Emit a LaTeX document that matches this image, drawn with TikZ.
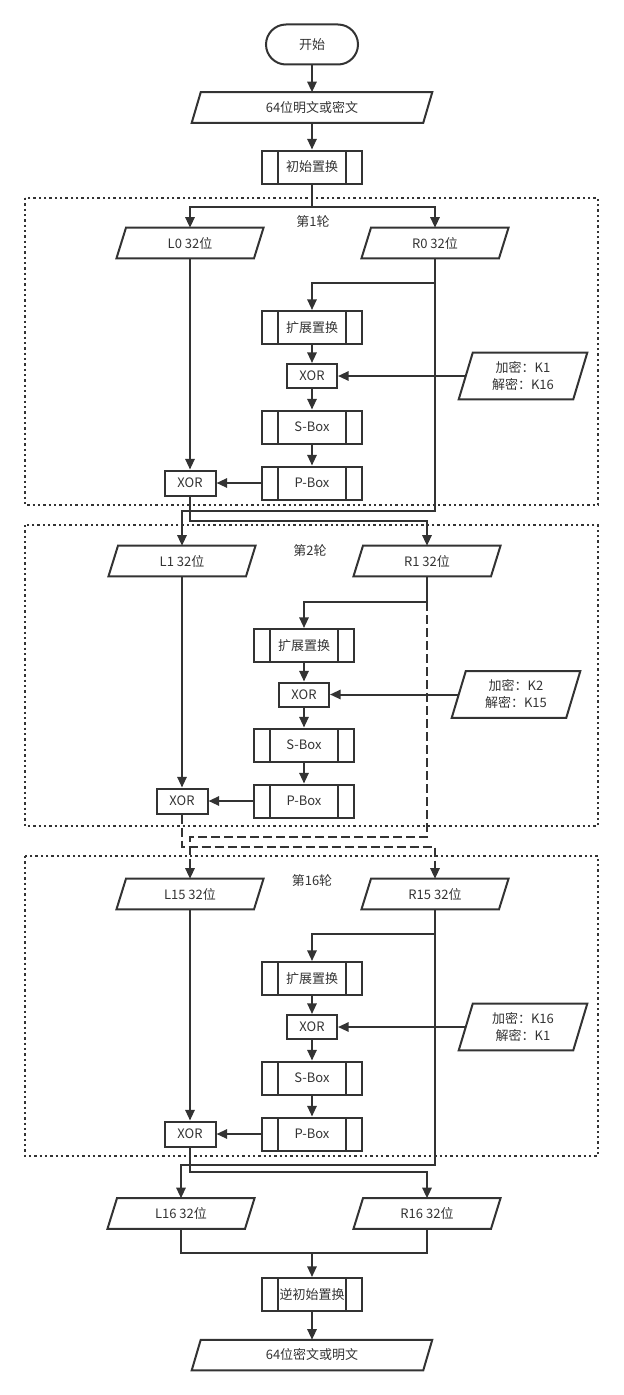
\documentclass[tikz,border=0pt]{standalone}
\usepackage{fontspec}
\newfontfamily\cjk{Noto Sans CJK SC}
\usetikzlibrary{arrows.meta,calc}
\definecolor{ink}{HTML}{333333}
\newcommand\drawpara[2]{\draw[ln] ($(#1.south west)+(-#2,0)$) -- ($(#1.north west)+(#2,0)$) -- ($(#1.north east)+(#2,0)$) -- ($(#1.south east)+(-#2,0)$) -- cycle;}
\begin{document}
\begin{tikzpicture}[x=0.75pt,y=-0.75pt,
  every node/.style={font=\cjk\fontsize{9.75pt}{12.75pt}\selectfont, text=ink},
  ln/.style={draw=ink, line width=1.5pt},
  arr/.style={ln, -{Triangle[length=8pt,width=7pt]}},
  dsh/.style={dash pattern=on 6.75pt off 3pt},
  roundbox/.style={draw=ink, line width=1.5pt, dash pattern=on 1.7pt off 2.3pt},
  box/.style={draw=ink, line width=1.5pt, rectangle, inner sep=0pt},
  term/.style={box, rounded corners=15pt, minimum width=69pt, minimum height=30pt},
  proc/.style={box, minimum width=75pt, minimum height=24.75pt,
    path picture={\draw[ink,line width=1.3pt]
      ([xshift=12pt]path picture bounding box.north west) -- ([xshift=12pt]path picture bounding box.south west)
      ([xshift=-12pt]path picture bounding box.north east) -- ([xshift=-12pt]path picture bounding box.south east);}},
  xorbox/.style={box, minimum width=37.5pt, minimum height=18pt},
  lxor/.style={box, minimum width=38.25pt, minimum height=18.75pt},
  para/.style={rectangle, inner sep=0pt, minimum width=102.75pt, minimum height=22.5pt},
  bigpara/.style={rectangle, inner sep=0pt, minimum width=173.25pt, minimum height=22.5pt},
  keypara/.style={rectangle, inner sep=0pt, minimum width=85.5pt, minimum height=34.5pt, align=center},
  lbl/.style={inner sep=0pt}
]
\useasboundingbox (0,0) rectangle (624,1395);

% round frames
\draw[roundbox] (25,198) rectangle (598,505);
\draw[roundbox] (25,525) rectangle (598,826);
\draw[roundbox] (25,856) rectangle (598,1156);
\node[lbl] (rl1) at (313,222) {第1轮};
\node[lbl] (rl2) at (310,551) {第2轮};
\node[lbl] (rl16) at (312,881) {第16轮};

% top
\node[term] (start) at (312,44.5) {开始};
\node[bigpara] (in) at (312,107.5) {64位明文或密文};
\drawpara{in}{4.5}
\node[proc] (ip) at (312,167) {初始置换};
\draw[arr] (start) -- (in);
\draw[arr] (in) -- (ip);
\coordinate (s) at (312,207);

% round 1
\node[para] (L0) at (190,243) {L0 32位}; \drawpara{L0}{4.75}
\node[para] (R0) at (435,243) {R0 32位}; \drawpara{R0}{4.75}
\coordinate (b1) at (435,283);
\node[proc] (ep1) at (312,327.5) {扩展置换};
\node[xorbox] (xa1) at (312,376) {XOR};
\node[keypara] (key1) at (523,376) {加密：K1\\解密：K16}; \drawpara{key1}{7}
\node[proc] (sb1) at (312,427) {S-Box};
\node[proc] (pb1) at (312,483) {P-Box};
\node[lxor] (xb1) at (190,483) {XOR};

\draw[ln] (ip) -- (s);
\draw[arr] (s) -| (L0.north);
\draw[arr] (s) -| (R0.north);
\draw[ln] (R0.south) -- (b1);
\draw[arr] (b1) -| (ep1.north);
\draw[arr] (ep1) -- (xa1);
\draw[arr] (key1) -- (xa1);
\draw[arr] (xa1) -- (sb1);
\draw[arr] (sb1) -- (pb1);
\draw[arr] (pb1) -- (xb1);
\draw[arr] (L0.south) -- (xb1.north);

% round 2
\node[para] (L1) at (182,561) {L1 32位}; \drawpara{L1}{4.75}
\node[para] (R1) at (427,561) {R1 32位}; \drawpara{R1}{4.75}
\coordinate (b2) at (427,602);
\node[proc] (ep2) at (304,645.5) {扩展置换};
\node[xorbox] (xa2) at (304,694.5) {XOR};
\node[keypara] (key2) at (516,694.5) {加密：K2\\解密：K15}; \drawpara{key2}{7}
\node[proc] (sb2) at (304,745) {S-Box};
\node[proc] (pb2) at (304,801) {P-Box};
\node[lxor] (xb2) at (182,801) {XOR};

\coordinate (c1) at (427,521);
\coordinate (c2) at (182,511);
\draw[arr] (xb1.south) |- (c1) -- (R1.north);
\draw[arr] (b1) |- (c2) -- (L1.north);

\draw[ln] (R1.south) -- (b2);
\draw[arr] (b2) -| (ep2.north);
\draw[arr] (ep2) -- (xa2);
\draw[arr] (key2) -- (xa2);
\draw[arr] (xa2) -- (sb2);
\draw[arr] (sb2) -- (pb2);
\draw[arr] (pb2) -- (xb2);
\draw[arr] (L1.south) -- (xb2.north);

% round 16
\node[para] (L15) at (190,894) {L15 32位}; \drawpara{L15}{4.75}
\node[para] (R15) at (435,894) {R15 32位}; \drawpara{R15}{4.75}
\coordinate (b16) at (435,934);
\node[proc] (ep16) at (312,978.5) {扩展置换};
\node[xorbox] (xa16) at (312,1027) {XOR};
\node[keypara] (key16) at (523,1027) {加密：K16\\解密：K1}; \drawpara{key16}{7}
\node[proc] (sb16) at (312,1078) {S-Box};
\node[proc] (pb16) at (312,1134) {P-Box};
\node[lxor] (xb16) at (190,1134) {XOR};

\coordinate (c3) at (435,847);
\coordinate (c4) at (190,837);
\draw[arr,dsh] (xb2.south) |- (c3) -- (R15.north);
\draw[arr,dsh] (b2) |- (c4) -- (L15.north);

\draw[ln] (R15.south) -- (b16);
\draw[arr] (b16) -| (ep16.north);
\draw[arr] (ep16) -- (xa16);
\draw[arr] (key16) -- (xa16);
\draw[arr] (xa16) -- (sb16);
\draw[arr] (sb16) -- (pb16);
\draw[arr] (pb16) -- (xb16);
\draw[arr] (L15.south) -- (xb16.north);

% bottom
\node[para] (L16) at (181,1213.5) {L16 32位}; \drawpara{L16}{4.75}
\node[para] (R16) at (427,1213.5) {R16 32位}; \drawpara{R16}{4.75}
\coordinate (c5) at (427,1172);
\coordinate (c6) at (181,1165);
\draw[arr] (xb16.south) |- (c5) -- (R16.north);
\draw[arr] (b16) |- (c6) -- (L16.north);

\coordinate (j) at (312,1253);
\node[proc] (iip) at (312,1294.5) {逆初始置换};
\node[bigpara] (out) at (312,1355) {64位密文或明文};
\drawpara{out}{4.5}
\draw[ln] (L16.south) |- (j) -| (R16.south);
\draw[arr] (j) -- (iip);
\draw[arr] (iip) -- (out);
\end{tikzpicture}
\end{document}
